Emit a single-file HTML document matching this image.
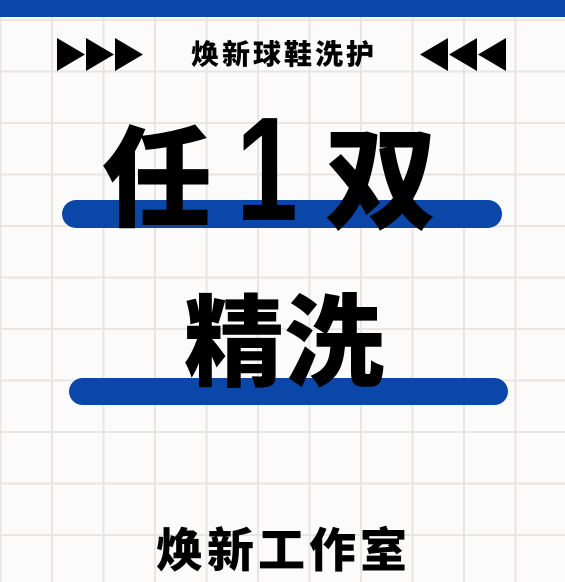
<!DOCTYPE html>
<html><head><meta charset="utf-8"><style>
html,body{margin:0;padding:0}
body{width:565px;height:582px;position:relative;overflow:hidden;background:#fbfbfb;
background-image:linear-gradient(to right,#e8e5e2 2px,transparent 2px),linear-gradient(to bottom,#e8e5e2 2px,transparent 2px);
background-size:51.5px 51.5px;background-position:51px 19px;font-family:"Liberation Sans","Noto Sans CJK SC",sans-serif}
.abs{position:absolute}
.t{color:#000;font-weight:900;white-space:nowrap;line-height:1}
.bar{background:#0a47a8;border-radius:14px}
</style></head><body>
<div class="abs" style="left:0;top:0;width:565px;height:17px;background:#0a47a8"></div>
<svg class="abs" style="left:57px;top:38px" width="88" height="34"><polygon points="0,0 28,16.5 0,33" fill="#000"/><polygon points="29,0 57,16.5 29,33" fill="#000"/><polygon points="58,0 86,16.5 58,33" fill="#000"/></svg>
<svg class="abs" style="left:420px;top:38px" width="88" height="34"><polygon points="28,0 0,16.5 28,33" fill="#000"/><polygon points="57,0 29,16.5 57,33" fill="#000"/><polygon points="86,0 58,16.5 86,33" fill="#000"/></svg>
<div class="abs t" style="left:184px;top:41px;width:200px;text-align:center;font-size:28px;letter-spacing:3px">焕新球鞋洗护</div>
<div class="abs bar" style="left:62px;top:200px;width:440px;height:28px"></div>
<div class="abs t" style="left:102px;top:126px;font-size:110px">任</div>
<div class="abs t" style="left:236px;top:96px;font-size:148px;font-family:'Liberation Sans',sans-serif;transform:scaleX(0.75);transform-origin:left">1</div>
<div class="abs t" style="left:325px;top:126px;font-size:112px">双</div>
<div class="abs bar" style="left:69px;top:378px;width:439px;height:27px"></div>
<div class="abs t" style="left:184px;top:294px;font-size:100px">精洗</div>
<div class="abs t" style="left:156px;top:527px;font-size:47px;letter-spacing:4px">焕新工作室</div>
</body></html>
